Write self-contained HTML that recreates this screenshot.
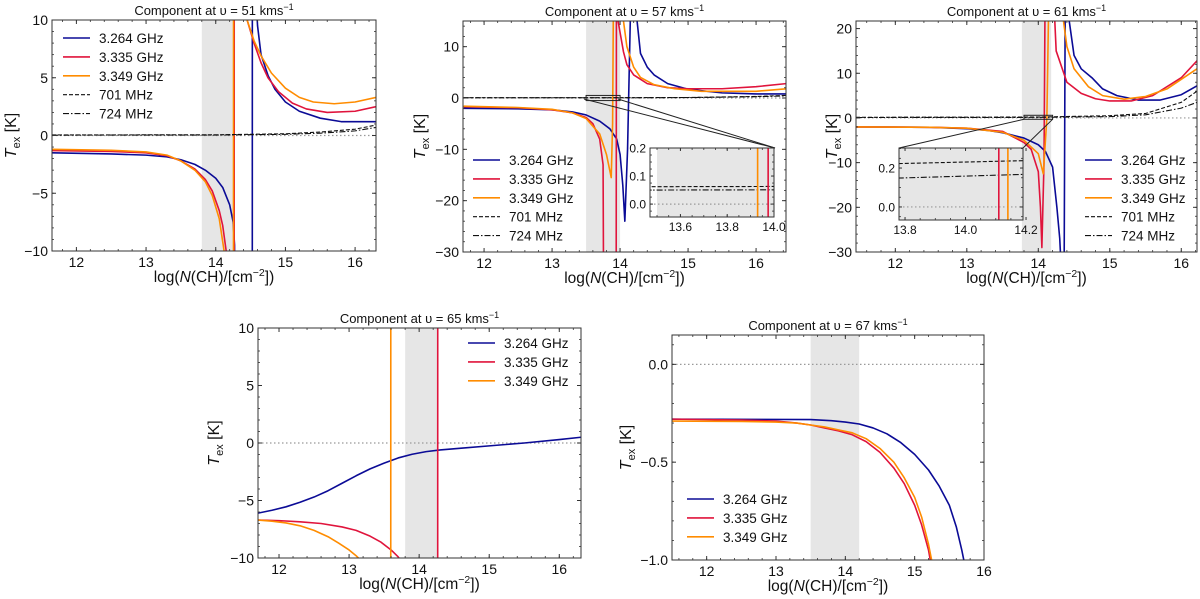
<!DOCTYPE html>
<html><head><meta charset="utf-8">
<style>
html,body{margin:0;padding:0;background:#fff;width:1200px;height:599px;overflow:hidden;}
svg{display:block;font-family:"Liberation Sans","DejaVu Sans",sans-serif;}
</style></head>
<body>
<svg id="fig" width="1200" height="599" viewBox="0 0 1200 599" xmlns="http://www.w3.org/2000/svg"></svg>
<script>
// ---------- DATA ----------
var xTicks = [12,13,14,15,16];
var legendFull = ["3.264 GHz","3.335 GHz","3.349 GHz","701 MHz","724 MHz"];
var legendShort = ["3.264 GHz","3.335 GHz","3.349 GHz"];

// Panel v=51
var p51_blue = [[11.65,-1.5],[12.5,-1.6],[13,-1.7],[13.3,-1.85],[13.5,-2.1],[13.7,-2.5],[13.85,-3.0],[14,-3.7],[14.1,-4.5],[14.2,-6],[14.25,-7.5],[14.27,-9.5],[14.3,-40],[14.5,-80],[14.52,-200],[14.53,200],[14.56,14],[14.6,9.5],[14.65,7],[14.75,5.2],[14.85,4],[15,2.9],[15.2,2.1],[15.5,1.5],[15.8,1.2],[16.3,1.2]];
var p51_red = [[11.65,-1.3],[12.5,-1.38],[13,-1.5],[13.3,-1.75],[13.5,-2.2],[13.7,-2.9],[13.85,-3.8],[13.95,-4.8],[14.05,-6.5],[14.1,-7.8],[14.15,-10],[14.2,-15],[14.26,-200],[14.27,200],[14.4,40],[14.45,10],[14.55,8],[14.65,6.3],[14.75,5],[14.9,3.8],[15.1,2.8],[15.3,2.3],[15.6,2.0],[16,2.1],[16.3,2.5]];
var p51_orange = [[11.65,-1.2],[12.5,-1.28],[13,-1.42],[13.3,-1.7],[13.5,-2.2],[13.7,-3.0],[13.85,-4.0],[13.95,-5.2],[14.05,-7.2],[14.12,-10],[14.2,-20],[14.25,-200],[14.26,200],[14.4,40],[14.45,10],[14.55,8.2],[14.65,6.9],[14.8,5.4],[15,4.1],[15.2,3.3],[15.4,2.9],[15.7,2.75],[16,2.9],[16.3,3.3]];
var p51_701 = [[11.65,0.05],[14,0.06],[15,0.15],[15.5,0.3],[16,0.55],[16.3,0.9]];
var p51_724 = [[11.65,0.03],[14,0.04],[15,0.1],[15.5,0.2],[16,0.4],[16.3,0.7]];

// Panel v=57
var p57_blue = [[11.7,-2],[12.5,-2.1],[13,-2.3],[13.3,-2.7],[13.5,-3.3],[13.7,-4.5],[13.85,-6],[13.95,-8],[14,-11],[14.04,-17],[14.07,-24],[14.11,-10],[14.15,15],[14.16,60],[14.24,60],[14.25,15],[14.3,8.7],[14.4,6],[14.5,4.5],[14.7,2.8],[15,1.7],[15.5,1.0],[16,0.8],[16.44,0.8]];
var p57_red = [[11.7,-1.7],[12.5,-1.9],[13,-2.3],[13.3,-2.9],[13.5,-3.8],[13.6,-5],[13.7,-8],[13.75,-13],[13.77,-80],[13.94,-80],[13.95,80],[13.97,15],[14.05,9],[14.1,6.5],[14.2,4.5],[14.4,2.8],[14.7,2.0],[15,1.8],[15.5,1.8],[16,2.2],[16.44,2.8]];
var p57_orange = [[11.7,-1.6],[12.5,-1.85],[13,-2.2],[13.3,-2.9],[13.5,-4],[13.7,-7],[13.8,-11],[13.87,-15.5],[13.89,-5],[13.9,15],[13.91,60],[14.03,60],[14.05,15],[14.1,10],[14.2,6],[14.3,4],[14.5,2.6],[14.8,1.8],[15.2,1.3],[16,1.3],[16.44,1.8]];
var p57_701 = [[11.7,0.06],[14,0.06],[15,0.1],[16,0.3],[16.44,0.5]];
var p57_724 = [[11.7,0.05],[14,0.05],[15,0.08],[16,0.25],[16.44,0.4]];
var p57in_701 = [[13.4,0.062],[14.1,0.063]];
var p57in_724 = [[13.4,0.05],[14.1,0.051]];
var p57in_orange = [[13.93,-1],[13.93,1]];
var p57in_red = [[13.975,-1],[13.975,1]];

// Panel v=61
var p61_blue = [[11.45,-2],[12.5,-2.1],[13,-2.4],[13.3,-2.8],[13.5,-3.3],[13.8,-4.5],[14,-6],[14.1,-7.5],[14.2,-11],[14.26,-20],[14.3,-27],[14.34,-40],[14.36,-40],[14.38,40],[14.42,40],[14.43,22],[14.5,14],[14.6,11],[14.75,9],[14.9,6.5],[15.1,5],[15.4,4],[15.7,4],[16,5.2],[16.22,7.2]];
var p61_red = [[11.45,-2],[12.5,-2.1],[13,-2.3],[13.5,-3],[13.8,-5.5],[13.9,-7],[14,-12],[14.03,-20],[14.05,-29],[14.08,-10],[14.1,40],[14.22,40],[14.23,22],[14.25,15],[14.4,8],[14.6,5.5],[14.8,4.3],[15,3.8],[15.3,3.8],[15.6,5],[16,9],[16.22,12.8]];
var p61_orange = [[11.45,-2],[12.5,-2.1],[13,-2.3],[13.5,-3.2],[13.8,-5],[14,-8],[14.07,-12.5],[14.12,0],[14.16,40],[14.34,40],[14.35,22],[14.4,16],[14.5,11],[14.7,7],[14.9,5],[15.2,4.2],[15.5,4.8],[15.8,6.5],[16.22,11]];
var p61_701 = [[11.45,0.15],[14,0.2],[15,0.5],[15.5,1],[16,3.5],[16.22,6]];
var p61_724 = [[11.45,0.1],[14,0.13],[15,0.3],[15.5,0.7],[16,2.2],[16.22,3.5]];
var p61in_701 = [[13.7,0.22],[14.25,0.24]];
var p61in_724 = [[13.7,0.145],[14.25,0.17]];
var p61in_red = [[14.11,-1],[14.11,1]];
var p61in_orange = [[14.14,-1],[14.14,1]];

// Panel v=65
var p65_blue = [[11.7,-6.1],[11.9,-5.85],[12.1,-5.55],[12.3,-5.15],[12.5,-4.7],[12.7,-4.15],[12.9,-3.5],[13.1,-2.85],[13.3,-2.25],[13.5,-1.75],[13.7,-1.3],[13.9,-0.98],[14.1,-0.75],[14.3,-0.6],[14.6,-0.45],[15,-0.25],[15.5,0],[16,0.3],[16.31,0.5]];
var p65_red = [[11.7,-6.7],[12,-6.75],[12.3,-6.85],[12.6,-7.0],[12.9,-7.3],[13.1,-7.6],[13.3,-8.1],[13.45,-8.6],[13.6,-9.3],[13.7,-9.9],[13.75,-10.3],[13.9,-60],[14.26,-200],[14.27,200]];
var p65_orange = [[11.7,-6.7],[11.9,-6.8],[12.1,-6.95],[12.3,-7.2],[12.5,-7.6],[12.7,-8.15],[12.85,-8.7],[13.0,-9.3],[13.1,-9.8],[13.15,-10.1],[13.3,-20],[13.59,-200],[13.6,200]];

// Panel v=67
var p67_blue = [[11.5,-0.28],[13.5,-0.282],[13.8,-0.288],[14.0,-0.295],[14.2,-0.305],[14.4,-0.325],[14.6,-0.355],[14.8,-0.4],[15.0,-0.46],[15.2,-0.54],[15.35,-0.62],[15.5,-0.72],[15.6,-0.83],[15.68,-0.95],[15.72,-1.02]];
var p67_red = [[11.5,-0.28],[12.5,-0.285],[13,-0.29],[13.3,-0.3],[13.5,-0.31],[13.7,-0.325],[13.9,-0.34],[14.1,-0.36],[14.3,-0.395],[14.5,-0.45],[14.7,-0.53],[14.85,-0.61],[15.0,-0.72],[15.1,-0.82],[15.2,-0.95],[15.23,-1.01]];
var p67_orange = [[11.5,-0.29],[12.5,-0.292],[13,-0.295],[13.3,-0.3],[13.5,-0.31],[13.7,-0.32],[13.9,-0.335],[14.1,-0.35],[14.3,-0.38],[14.5,-0.43],[14.7,-0.5],[14.85,-0.58],[15.0,-0.68],[15.1,-0.78],[15.2,-0.92],[15.25,-1.01]];

// ---------- RENDER ----------
var NS = "http://www.w3.org/2000/svg";
var svg = document.getElementById('fig');
var C = {blue:"#0b0b96", red:"#e0143c", orange:"#ff8c00", k:"#111"};
var clipId = 0;
function mk(tag, attrs, parent){
  var e = document.createElementNS(NS, tag);
  for (var k in attrs) e.setAttribute(k, attrs[k]);
  (parent||svg).appendChild(e); return e;
}
function fmtNum(v, d){ var s = v.toFixed(d); if (v < 0 || s.charAt(0)==='-') s = "\u2212" + s.replace('-',''); return s; }

function axes(cfg){
  var g = mk('g', {});
  
  
  var L=cfg.box[0], T=cfg.box[1], R=cfg.box[2], B=cfg.box[3];
  var sx = function(v){ return L + (v-cfg.x[0])/(cfg.x[1]-cfg.x[0])*(R-L); };
  var sy = function(v){ return B - (v-cfg.y[0])/(cfg.y[1]-cfg.y[0])*(B-T); };
  var id = 'clip'+(clipId++);
  var cp = mk('clipPath', {id:id}, g);
  mk('rect', {x:L, y:T, width:R-L, height:B-T}, cp);
  if (cfg.bg) { var bgr = mk('rect', {x:L,y:T,width:R-L,height:B-T,fill:cfg.bg}, g);   }
  var pg = mk('g', {'clip-path':'url(#'+id+')'}, g);
  if (cfg.shade){
    var sr = mk('rect', {x:sx(cfg.shade[0]), y:T, width:sx(cfg.shade[1])-sx(cfg.shade[0]), height:B-T, fill:'#e6e6e6'}, pg);
    
    
  }
  var zl = mk('line', {x1:L, x2:R, y1:sy(0), y2:sy(0), stroke:'#999', 'stroke-width':1.2, 'stroke-dasharray':'1.5,2.5'}, pg);
  
  
  cfg.series.forEach(function(s){
    var pts = s.data.map(function(p){ return sx(p[0]).toFixed(2)+','+sy(p[1]).toFixed(2); }).join(' ');
    var a = {points:pts, fill:'none', stroke:s.color, 'stroke-width':s.w||1.6, 'stroke-linejoin':'round'};
    if (s.dash) a['stroke-dasharray'] = s.dash;
    var pl = mk('polyline', a, pg);
    
    
  });
  var fr = mk('rect', {x:L, y:T, width:R-L, height:B-T, fill:'none', stroke:'#333', 'stroke-width':1}, g);
  
  
  var fs = cfg.fs || 14, tl = cfg.tl || 4;
  if (cfg.xminor){
    for (var v = Math.ceil(cfg.x[0]/cfg.xminor)*cfg.xminor; v <= cfg.x[1]+1e-9; v += cfg.xminor){
      var X = sx(v);
      mk('line',{x1:X,x2:X,y1:B,y2:B-2,stroke:'#333','stroke-width':0.8},g);
      mk('line',{x1:X,x2:X,y1:T,y2:T+2,stroke:'#333','stroke-width':0.8},g);
    }
  }
  if (cfg.yminor){
    for (var v2 = Math.ceil(cfg.y[0]/cfg.yminor)*cfg.yminor; v2 <= cfg.y[1]+1e-9; v2 += cfg.yminor){
      var Y = sy(v2);
      mk('line',{x1:L,x2:L+2,y1:Y,y2:Y,stroke:'#333','stroke-width':0.8},g);
      mk('line',{x1:R,x2:R-2,y1:Y,y2:Y,stroke:'#333','stroke-width':0.8},g);
    }
  }
  cfg.xt.forEach(function(v){
    var X = sx(v);
    mk('line',{x1:X,x2:X,y1:B,y2:B-tl,stroke:'#333','stroke-width':1},g);
    mk('line',{x1:X,x2:X,y1:T,y2:T+tl,stroke:'#333','stroke-width':1},g);
    var t = mk('text',{x:X, y:B+fs+2, 'text-anchor':'middle', 'font-size':fs, fill:'#111'},g);
    t.textContent = fmtNum(v, cfg.xd||0);
    
    
  });
  cfg.yt.forEach(function(v){
    var Y = sy(v);
    mk('line',{x1:L,x2:L+tl,y1:Y,y2:Y,stroke:'#333','stroke-width':1},g);
    mk('line',{x1:R,x2:R-tl,y1:Y,y2:Y,stroke:'#333','stroke-width':1},g);
    var t = mk('text',{x:L-4, y:Y+fs*0.36, 'text-anchor':'end', 'font-size':fs, fill:'#111'},g);
    t.textContent = fmtNum(v, cfg.yd||0);
    
    
  });
  if (cfg.title){
    var tt = mk('text',{x:(L+R)/2 + (cfg.tdx||0), y:T-5, 'text-anchor':'middle','font-size':13, fill:'#111'},g);
    
    
    tt.appendChild(document.createTextNode(cfg.title));
    var sup = mk('tspan',{'font-size':9, dy:-5},tt); sup.textContent = "\u22121";
  }
  if (cfg.xlabel){
    var xl = mk('text',{x:(L+R)/2, y:B+31, 'text-anchor':'middle','font-size':15.5, fill:'#111'},g);
    
    
    xl.appendChild(document.createTextNode('log('));
    var n = mk('tspan',{'font-style':'italic'},xl); n.textContent='N';
    xl.appendChild(document.createTextNode('(CH)/[cm'));
    var s2 = mk('tspan',{'font-size':10.5, dy:-6},xl); s2.textContent="\u22122";
    var s3 = mk('tspan',{dy:6},xl); s3.textContent="])";
    var yl = mk('text',{transform:'translate('+cfg.ylx+','+((T+B)/2)+') rotate(-90)', 'text-anchor':'middle','font-size':16, fill:'#111'},g);
    
    
    var ti = mk('tspan',{'font-style':'italic'},yl); ti.textContent='T';
    var te = mk('tspan',{'font-size':11, dy:4},yl); te.textContent='ex';
    var tk = mk('tspan',{dy:-4},yl); tk.textContent=' [K]';
  }
  if (cfg.legend){
    var lg = mk('g',{},g);
    
    
    var styles = [[C.blue,null,1.6],[C.red,null,1.6],[C.orange,null,1.6],[C.k,'4,2',1.1],[C.k,'6,2,1.5,2',1.1]];
    cfg.legend.labels.forEach(function(lab,i){
      var y = cfg.legend.y + i*18.9;
      var a = {x1:cfg.legend.x, x2:cfg.legend.x+27, y1:y, y2:y, stroke:styles[i][0], 'stroke-width':styles[i][2]};
      if (styles[i][1]) a['stroke-dasharray']=styles[i][1];
      var ln = mk('line',a,lg);
      
      
      var t = mk('text',{x:cfg.legend.x+36, y:y+5,'font-size':13.5, fill:'#111'},lg);
      t.textContent = lab;
      
      
    });
  }
  return {sx:sx, sy:sy, g:g};
}
function std(b,r,o,d1,d2){
  var s=[{name:'series-3264',color:C.blue,data:b},{name:'series-3335',color:C.red,data:r},{name:'series-3349',color:C.orange,data:o}];
  if (d1) s.push({name:'series-701',color:C.k,data:d1,dash:'4,2',w:1.1});
  if (d2) s.push({name:'series-724',color:C.k,data:d2,dash:'6,2,1.5,2',w:1.1});
  return s;
}
function line(x1,y1,x2,y2,name){
  var l = mk('line',{x1:x1,y1:y1,x2:x2,y2:y2,stroke:'#222','stroke-width':1});
  
  
}
function rectBox(a,x0,x1,y0,y1){
  var r = mk('rect',{x:a.sx(x0),y:a.sy(y1),width:a.sx(x1)-a.sx(x0),height:a.sy(y0)-a.sy(y1),fill:'none',stroke:'#222','stroke-width':1});
  
  
}

axes({name:'panel-51', box:[52,20,376,251], x:[11.65,16.3], y:[-10,10], xt:xTicks, yt:[-10,-5,0,5,10], xminor:0.2, yminor:1, shade:[13.8,14.25],
  series:std(p51_blue,p51_red,p51_orange,p51_701,p51_724), title:'Component at \u03c5 = 51 kms', xlabel:true, ylx:16, legend:{x:63,y:38,labels:legendFull}});
var a2 = axes({name:'panel-57', box:[463,21,786,252], x:[11.69,16.44], y:[-30,15], xt:xTicks, yt:[-30,-20,-10,0,10], xminor:0.2, yminor:2, shade:[13.5,14.0],
  series:std(p57_blue,p57_red,p57_orange,p57_701,p57_724), title:'Component at \u03c5 = 57 kms', xlabel:true, ylx:425, legend:{x:473,y:160,labels:legendFull}});
rectBox(a2,13.5,14.0,-0.5,0.5);
line(584,99,775,148,'inset-connector');
line(618,99,775,148,'inset-connector');
axes({name:'inset-57', box:[650,148,774,217], x:[13.47,14.0], y:[-0.046,0.2], xt:[13.6,13.8,14.0], yt:[0.0,0.1,0.2], xd:1, yd:1, fs:12, tl:3, xminor:0.05, yminor:0.025, shade:[13.5,14.0], bg:'#fff',
  series:[{name:'inset-701',color:C.k,data:p57in_701,dash:'4,2',w:1.1},{name:'inset-724',color:C.k,data:p57in_724,dash:'6,2,1.5,2',w:1.1},{name:'inset-3349',color:C.orange,data:p57in_orange},{name:'inset-3335',color:C.red,data:p57in_red}]});
var a3 = axes({name:'panel-61', box:[856,21,1197,252], x:[11.45,16.22], y:[-30,21.7], xt:xTicks, yt:[-30,-20,-10,0,10,20], xminor:0.2, yminor:2, shade:[13.77,14.18],
  series:std(p61_blue,p61_red,p61_orange,p61_701,p61_724), title:'Component at \u03c5 = 61 kms', xlabel:true, ylx:837, legend:{x:1085,y:160,labels:legendFull}});
rectBox(a3,13.8,14.2,-0.3,0.6);
line(a3.sx(13.8),a3.sy(-0.3),899,148,'inset-connector');
line(a3.sx(14.2),a3.sy(-0.3),1023,148,'inset-connector');
axes({name:'inset-61', box:[899,148,1023,220], x:[13.78,14.19], y:[-0.067,0.303], xt:[13.8,14.0,14.2], yt:[0.0,0.2], xd:1, yd:1, fs:12, tl:3, xminor:0.05, yminor:0.05, shade:[13.7,14.3], bg:'#fff',
  series:[{name:'inset-701',color:C.k,data:p61in_701,dash:'4,2',w:1.1},{name:'inset-724',color:C.k,data:p61in_724,dash:'6,2,1.5,2',w:1.1},{name:'inset-3335',color:C.red,data:p61in_red},{name:'inset-3349',color:C.orange,data:p61in_orange}]});
axes({name:'panel-65', box:[258,328,581,558], x:[11.7,16.31], y:[-10,10], xt:xTicks, yt:[-10,-5,0,5,10], xminor:0.2, yminor:1, shade:[13.8,14.27],
  series:std(p65_blue,p65_red,p65_orange), title:'Component at \u03c5 = 65 kms', xlabel:true, ylx:219, legend:{x:468,y:343,labels:legendShort}});
axes({name:'panel-67', box:[672,335,984,560], x:[11.5,16], y:[-1,0.15], xt:xTicks, yt:[-1.0,-0.5,0.0], yd:1, xminor:0.2, yminor:0.1, shade:[13.5,14.2],
  series:std(p67_blue,p67_red,p67_orange), title:'Component at \u03c5 =  67 kms', xlabel:true, ylx:631, legend:{x:687,y:499,labels:legendShort}});
</script>
</body></html>
